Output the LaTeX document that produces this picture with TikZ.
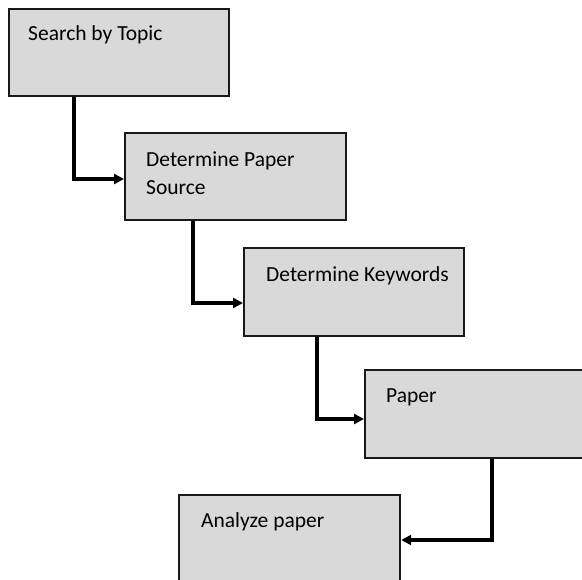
\documentclass[tikz,border=0pt]{standalone}
\usepackage{fontspec}
\setmainfont{Carlito}
\usetikzlibrary{arrows.meta}
\definecolor{boxfill}{HTML}{D9D9D9}
\tikzset{
  box/.style={draw=black!90, line width=2.2pt, fill=boxfill, anchor=north west, inner sep=0pt},
  lbl/.style={anchor=base west, inner sep=0pt, font=\fontsize{21.5}{28}\selectfont, align=left},
  conn/.style={line width=3.2pt, -{Triangle[length=10pt,width=10pt]}}
}
\begin{document}
\begin{tikzpicture}[x=1pt,y=-1pt]
\useasboundingbox (0,0) rectangle (582,580);
\node[box, minimum width=220pt, minimum height=87pt] (b1) at (8,8) {};
\node[box, minimum width=221pt, minimum height=87pt] (b2) at (124,132) {};
\node[box, minimum width=220pt, minimum height=88pt] (b3) at (243,247) {};
\node[box, minimum width=240pt, minimum height=88pt] (b4) at (364,369) {};
\node[box, minimum width=221pt, minimum height=110pt] (b5) at (178,494) {};
\node[lbl] (t1) at (28,41) {Search by Topic};
\node[lbl] (t2a) at (146,167) {Determine Paper};
\node[lbl] (t2b) at (146,195) {Source};
\node[lbl] (t3) at (266,282) {Determine Keywords};
\node[lbl] (t4) at (386,403) {Paper};
\node[lbl] (t5) at (201,528) {Analyze paper};
\coordinate (c1) at (74,179);
\coordinate (c2) at (193,303);
\coordinate (c3) at (317,419);
\coordinate (c4) at (492,540);
\draw[conn] (b1.south west -| c1) |- (b2.west |- c1);
\draw[conn] (b2.south west -| c2) |- (b3.west |- c2);
\draw[conn] (b3.south west -| c3) |- (b4.west |- c3);
\draw[conn] (b4.south west -| c4) |- (b5.east |- c4);
\end{tikzpicture}
\end{document}
